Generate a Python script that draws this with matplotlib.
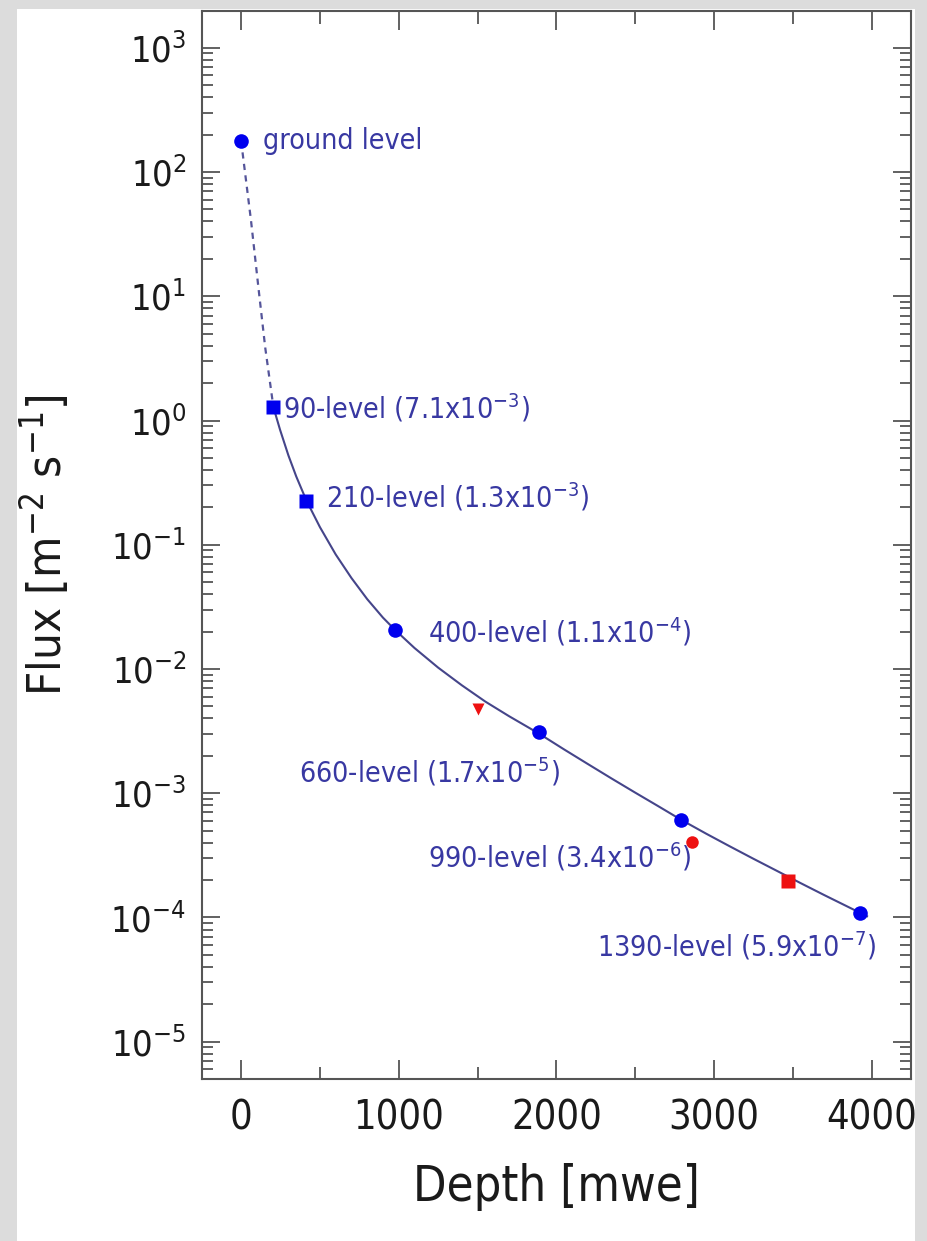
import numpy as np
import matplotlib
matplotlib.use("Agg")
from matplotlib import pyplot as plt
from matplotlib.patches import Rectangle

plt.rcParams['font.family'] = ['DejaVu Sans']
plt.rcParams['font.stretch'] = 'condensed'
plt.rcParams['mathtext.default'] = 'regular'

# Fitted depth-intensity curve
dashDepth = [0, 63, 110, 153, 205]
dashFlux = [178, 40.5, 11.7, 3.86, 1.28]

curveDepth = [205, 247, 300, 350, 414, 500, 600, 700, 800, 900, 979, 1100,
              1250, 1400, 1550, 1700, 1890, 2050, 2200, 2350, 2500, 2650,
              2789, 2950, 3100, 3250, 3400, 3550, 3700, 3850, 3971]
curveFlux = [1.279, 0.843, 0.524, 0.354, 0.2275, 0.1387, 0.0836, 0.0540,
             0.0365, 0.0259, 0.0205, 0.01476, 0.01026, 0.00740, 0.00546,
             0.00417, 0.00302, 0.002249, 0.001718, 0.001315, 0.001012,
             0.000782, 0.000614, 0.000473, 0.000374, 0.000297, 0.000237,
             0.000189, 0.0001514, 0.0001219, 0.0001023]

# Measured points
blueCircDepth = [0, 979, 1890, 2789, 3925]
blueCircFlux = [178, 0.0205, 0.00312, 6.1e-4, 1.09e-4]
blueSqDepth = [205, 414]
blueSqFlux = [1.28, 0.227]
redTriDepth = [1502]
redTriFlux = [4.8e-3]
redCircDepth = [2863]
redCircFlux = [4.07e-4]
redSqDepth = [3469]
redSqFlux = [1.98e-4]

# Level labels
labelText = ['ground level',
             r'90-level (7.1x10$^{-3}$)',
             r'210-level (1.3x10$^{-3}$)',
             r'400-level (1.1x10$^{-4}$)',
             r'660-level (1.7x10$^{-5}$)',
             r'990-level (3.4x10$^{-6}$)',
             r'1390-level (5.9x10$^{-7}$)']
labelDepth = [138, 265, 540, 1186, 370, 1186, 2260]
labelFlux = [177, 1.27, 0.241, 0.0198, 0.00149, 3.09e-4, 5.85e-5]

fig = plt.figure(figsize=(9.27, 12.41), dpi=100)
fig.patch.set_facecolor('#dcdcdc')
fig.patches.append(Rectangle((17/927, 0), (915-17)/927, 1-9/1241,
                             transform=fig.transFigure, facecolor='white',
                             edgecolor='none', zorder=-10))

ax = fig.add_axes([201.7/927, 1-1079/1241, (911-201.7)/927, (1079-10.5)/1241])
ax.patch.set_alpha(0)
ax.set_yscale('log')
ax.set_xlim(-250, 4250)
ax.set_ylim(10**-5.3, 10**3.3)

ax.plot(dashDepth, dashFlux, '--', color='#55559a', lw=1.6, dashes=(2.8, 2.4))
ax.plot(curveDepth, curveFlux, '-', color='#45458a', lw=1.5)

ax.plot(blueCircDepth, blueCircFlux, 'o', color='#0000ee', ms=10.5, mec='none')
ax.plot(blueSqDepth, blueSqFlux, 's', color='#0000ee', ms=10.5, mec='none')
ax.plot(redTriDepth, redTriFlux, 'v', color='#ee1111', ms=9, mec='none')
ax.plot(redCircDepth, redCircFlux, 'o', color='#ee1111', ms=9, mec='none')
ax.plot(redSqDepth, redSqFlux, 's', color='#ee1111', ms=10.5, mec='none')

for t, x, y in zip(labelText, labelDepth, labelFlux):
    ax.text(x, y, t, color='#3838a2', fontsize=20.5, ha='left', va='center')

ax.set_xticks([0, 1000, 2000, 3000, 4000])
ax.set_xticks(np.arange(500, 4000, 1000), minor=True)
ax.set_yticks([10.0**k for k in range(-5, 4)])
ax.set_yticklabels([r'$10^{%d}$' % k for k in range(-5, 4)])
ax.yaxis.set_minor_locator(matplotlib.ticker.LogLocator(base=10, subs=np.arange(2, 10), numticks=20))
ax.yaxis.set_minor_formatter(matplotlib.ticker.NullFormatter())

spineCol = '#555555'
for s in ax.spines.values():
    s.set_color(spineCol)
    s.set_linewidth(1.5)
ax.tick_params(which='both', direction='in', top=True, right=True, color=spineCol,
               width=1.3, labelcolor='#1a1a1a')
ax.tick_params(axis='x', which='major', length=14, labelsize=28.5, pad=14)
ax.tick_params(axis='x', which='minor', length=9)
ax.tick_params(axis='y', which='major', length=13, labelsize=26, pad=11)
ax.tick_params(axis='y', which='minor', length=8)

ax.set_xlabel('Depth [mwe]', fontsize=35, labelpad=18, color='#1a1a1a')
ax.set_ylabel(r'Flux [m$^{-2}$ s$^{-1}$]', fontsize=34, labelpad=28, color='#1a1a1a')

fig.savefig('out.png', dpi=100, facecolor=fig.get_facecolor())
